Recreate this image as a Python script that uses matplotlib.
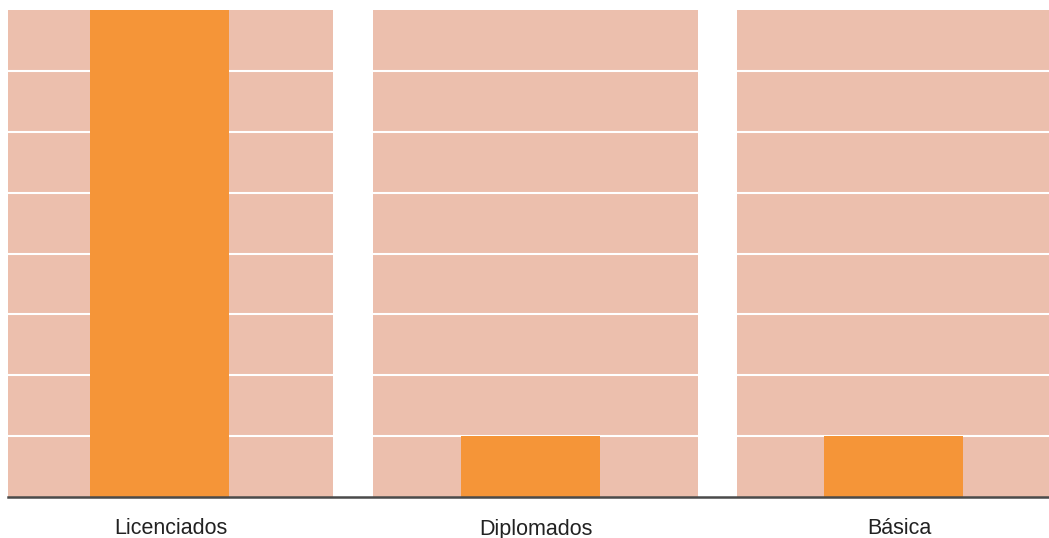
import matplotlib
matplotlib.use("Agg")
import matplotlib.pyplot as plt
from matplotlib.lines import Line2D

categories = ["Licenciados", "Diplomados", "Básica"]
values = [8.3, 1.0, 1.0]
y_ticks = [1, 2, 3, 4, 5, 6, 7, 8]

plt.rcParams['font.family'] = ['Liberation Sans', 'DejaVu Sans']

W, H = 1049, 538
fig = plt.figure(figsize=(W / 100, H / 100), dpi=100)

panel_left = [8, 373, 737]
panel_w = 325
bottom_px = 41
top_px = 10
bar_shift = [-0.034, -0.016, -0.018]

bg = "#ECBFAD"
orange = "#F59538"

for i, cat in enumerate(categories):
    ax = fig.add_axes([panel_left[i] / W, bottom_px / H, panel_w / W, (H - bottom_px - top_px) / H])
    ax.set_facecolor(bg)
    ax.set_xlim(-0.5 - bar_shift[i], 0.5 - bar_shift[i])
    ax.set_ylim(0, y_ticks[-1])
    for t in y_ticks[:-1]:
        ax.axhline(t, color="white", lw=1.5, zorder=1)
    ax.bar([0], [values[i]], width=0.428, color=orange, zorder=2)
    ax.set_xticks([])
    ax.set_yticks([])
    for s in ax.spines.values():
        s.set_visible(False)
    fig.text((panel_left[i] + panel_w / 2) / W, 1 - 529 / H, cat, ha="center", va="center",
             fontsize=15.5, color="#222222")

fig.add_artist(Line2D([8 / W, 1], [bottom_px / H, bottom_px / H], color="#4a4a4a", lw=1.8,
                      transform=fig.transFigure))

fig.savefig("out.png", dpi=100)
